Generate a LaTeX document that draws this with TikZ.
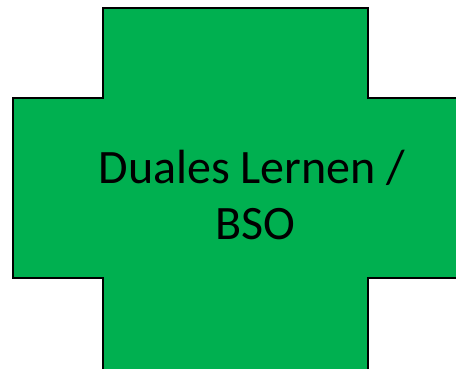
\documentclass[tikz,border=0pt]{standalone}
\usepackage{fontspec}
\setmainfont{Carlito}
\definecolor{crossgreen}{HTML}{00B050}
\tikzset{
  crossshape/.style={fill=crossgreen, draw=black, line width=2pt, line join=miter},
  crosstext/.style={font=\fontsize{48}{57}\selectfont, text=black, inner sep=0pt, anchor=base}
}
\begin{document}
\begin{tikzpicture}[x=1pt,y=-1pt]
\useasboundingbox (0,0) rectangle (456,369);
\clip (0,0) rectangle (456,369);
\draw[crossshape] (103,8) -- (368,8) -- (368,98) -- (470,98) -- (470,278) -- (368,278) -- (368,380) -- (103,380) -- (103,278) -- (13,278) -- (13,98) -- (103,98) -- cycle;
\node[crosstext] (line1) at (252,183) {Duales Lernen /};
\node[crosstext] (line2) at (255,240) {BSO};
\end{tikzpicture}
\end{document}
